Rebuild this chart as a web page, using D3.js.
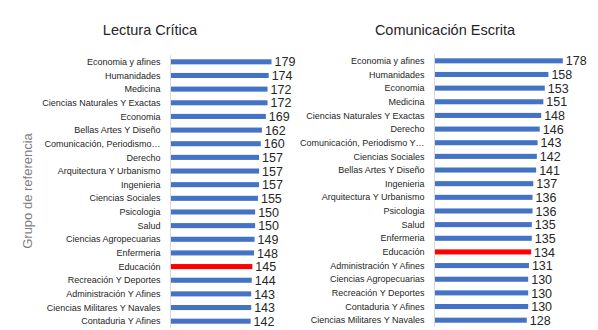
<!DOCTYPE html>
<html><head><meta charset="utf-8">
<script src="https://cdn.jsdelivr.net/npm/d3@7"></script>
<style>
html,body{margin:0;padding:0;background:#fff;}
svg{display:block;font-family:"Liberation Sans",Arial,sans-serif;}
</style></head>
<body><svg id="c" width="598" height="330"></svg>
<script>
const leftTitle = "Lectura Crítica";
const leftCategories = ["Economia y afines","Humanidades","Medicina","Ciencias Naturales Y Exactas","Economia","Bellas Artes Y Diseño","Comunicación, Periodismo…","Derecho","Arquitectura Y Urbanismo","Ingenieria","Ciencias Sociales","Psicologia","Salud","Ciencias Agropecuarias","Enfermeria","Educación","Recreación Y Deportes","Administración Y Afines","Ciencias Militares Y Navales","Contaduria Y Afines"];
const leftValues = [179,174,172,172,169,162,160,157,157,157,155,150,150,149,148,145,144,143,143,142];

const rightTitle = "Comunicación Escrita";
const rightCategories = ["Economia y afines","Humanidades","Economia","Medicina","Ciencias Naturales Y Exactas","Derecho","Comunicación, Periodismo Y…","Ciencias Sociales","Bellas Artes Y Diseño","Ingenieria","Arquitectura Y Urbanismo","Psicologia","Salud","Enfermeria","Educación","Administración Y Afines","Ciencias Agropecuarias","Recreación Y Deportes","Contaduria Y Afines","Ciencias Militares Y Navales"];
const rightValues = [178,158,153,151,148,146,143,142,141,137,136,136,135,135,134,131,130,130,130,128];

const highlight = "Educación";
const yAxisTitle = "Grupo de referencia";

const svg = d3.select("#c");
const BLUE = "#4472C4", RED = "#FF0000", TXT = "#262626";

function panel(cfg){
  const cats = cfg.cats, vals = cfg.vals;
  const y = d3.scaleBand().domain(cats).range([cfg.y0, cfg.y1]).padding(0);
  const x = d3.scaleLinear().domain([0, 200]).range([cfg.x0, cfg.x0 + cfg.pxPerUnit*200]);
  const g = svg.append("g");
  const bh = y.bandwidth()*0.37;
  const data = cats.map((c,i)=>({c, v: vals[i]}));
  g.selectAll("rect").data(data).join("rect")
    .attr("x", x(0))
    .attr("y", d => y(d.c) + y.bandwidth()/2 - bh/2)
    .attr("width", d => x(d.v) - x(0))
    .attr("height", bh)
    .attr("fill", d => d.c === highlight ? RED : BLUE);
  // axis line
  g.append("line").attr("x1", x(0)).attr("x2", x(0))
    .attr("y1", cfg.y0).attr("y2", cfg.y1)
    .attr("stroke", "#d9d9d9").attr("stroke-width", 1);
  // category labels
  g.selectAll("text.cat").data(data).join("text").attr("class","cat")
    .attr("x", x(0) - 10)
    .attr("y", d => y(d.c) + y.bandwidth()/2)
    .attr("dy", "0.35em")
    .attr("text-anchor","end")
    .attr("font-size", 9)
    .attr("fill", TXT)
    .text(d => d.c);
  // value labels
  g.selectAll("text.val").data(data).join("text").attr("class","val")
    .attr("x", d => x(d.v) + 3)
    .attr("y", d => y(d.c) + y.bandwidth()/2)
    .attr("dy", "0.37em")
    .attr("font-size", 12.5)
    .attr("fill", TXT)
    .text(d => d.v);
  // title
  svg.append("text").attr("x", cfg.titleX).attr("y", 35)
    .attr("text-anchor","middle").attr("font-size", 14.5)
    .attr("fill", TXT).text(cfg.title);
}

panel({cats: leftCategories, vals: leftValues, x0: 170.5, pxPerUnit: 0.5642, y0: 55, y1: 328, title: leftTitle, titleX: 150});
panel({cats: rightCategories, vals: rightValues, x0: 434.5, pxPerUnit: 0.7208, y0: 54, y1: 327, title: rightTitle, titleX: 445});

svg.append("text")
  .attr("transform", "translate(32,191) rotate(-90)")
  .attr("text-anchor","middle")
  .attr("font-size", 13)
  .attr("fill", "#7f7f7f")
  .text(yAxisTitle);
</script></body></html>
